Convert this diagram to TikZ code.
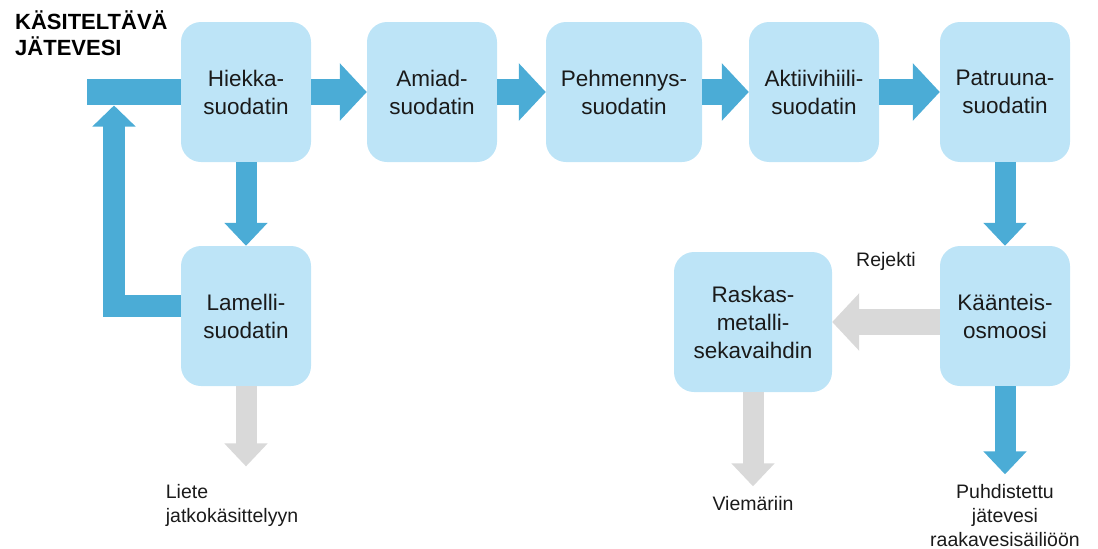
\documentclass[tikz,border=0pt]{standalone}
\usepackage{fontspec}
\setmainfont{Liberation Sans}
\usetikzlibrary{positioning, arrows.meta}
\definecolor{boxblue}{RGB}{189,228,247}
\definecolor{flowblue}{RGB}{75,172,214}
\definecolor{wastegray}{RGB}{217,217,217}
\definecolor{ink}{RGB}{26,26,26}

\begin{document}
\begin{tikzpicture}
	[x=1pt, y=-1pt, on grid,
	 box/.style={rectangle, rounded corners=20pt, fill=boxblue, minimum width=130pt,
	   minimum height=140pt, align=center, text=ink, font=\fontsize{22.5}{28}\selectfont},
	 note/.style={align=center, text=ink, font=\fontsize{19.5}{24}\selectfont},
	 flow/.style={line width=26pt, flowblue, -{Triangle[width=56pt,length=27pt]}},
	 reject/.style={flow, wastegray},
	 drop/.style={line width=21pt, flowblue, -{Triangle[width=42pt,length=23pt]}},
	 waste/.style={drop, wastegray}]
   \useasboundingbox (0,0) rectangle (1098,549);
   \node[anchor=north west, align=left, inner sep=0pt, text=black,
         font=\fontsize{22}{26}\selectfont\bfseries] (t_1) at (15,11) {K\"ASITELT\"AV\"A\\J\"ATEVESI};
   \node[box] (s_1) at (246,92) {Hiekka-\\suodatin};
   \node[box] (s_2) [right=186pt of s_1] {Amiad-\\suodatin};
   \node[box, minimum width=156pt] (s_3) [right=192pt of s_2] {Pehmennys-\\suodatin};
   \node[box] (s_4) [right=190pt of s_3] {Aktiivihiili-\\suodatin};
   \node[box] (s_5) [right=191pt of s_4] {Patruuna-\\suodatin};
   \node[box] (s_6) [below=224pt of s_1] {Lamelli-\\suodatin};
   \node[box] (s_7) [below=224pt of s_5] {K\"a\"anteis-\\osmoosi};
   \node[box, minimum width=158pt] (s_8) [left=252pt of s_7, yshift=-6pt] {Raskas-\\metalli-\\sekavaihdin};
   \node[note, align=left] (n_1) [below=189pt of s_6, xshift=-14pt] {Liete\\jatkok\"asittelyyn};
   \node[note] (n_2) [below=182pt of s_8] {Viem\"ariin};
   \node[note] (n_3) [below=200pt of s_7] {Puhdistettu\\j\"atevesi\\raakavesis\"aili\"o\"on};
   \coordinate (inlet) at (87,92);
   \coordinate (ret) at (114,105.5);
   % inlet and return from the lamella filter
   \draw[flow, -] (inlet) -- (s_1);
   \draw[drop, line width=22pt, -{Triangle[width=42pt,length=21pt]}]
     ([yshift=10pt]s_6.west) -| (ret);
    \path[flow]
    (s_1) edge (s_2)
    (s_2) edge (s_3)
    (s_3) edge (s_4)
    (s_4) edge (s_5);
    \path[drop]
    (s_1) edge (s_6)
    (s_5) edge (s_7)
    (s_7) edge [shorten >=7pt] (n_3);
    \path[waste]
    (s_6) edge [shorten >=14pt] (s_6 |- n_1.north)
    (s_8) edge [shorten >=7pt] (n_2);
    \path[reject]
    (s_7.west |- s_8) edge node[note, above=35pt] {Rejekti} (s_8);
\end{tikzpicture}
\end{document}
